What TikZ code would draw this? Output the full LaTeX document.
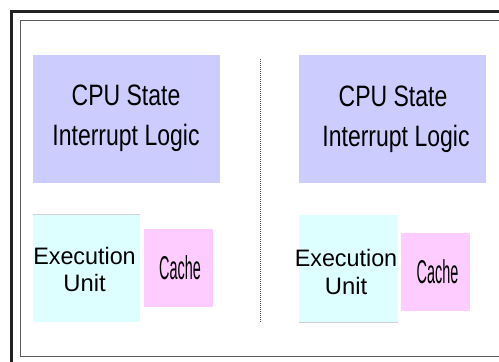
\documentclass[tikz,border=0pt]{standalone}
\usepackage{fontspec}
\setmainfont{Liberation Sans}
\definecolor{cpufill}{RGB}{204,204,255}
\definecolor{exefill}{RGB}{221,255,255}
\definecolor{cachefill}{RGB}{255,204,255}
\definecolor{framedark}{RGB}{34,34,34}
\definecolor{frameinner}{RGB}{90,90,90}
\begin{document}
\begin{tikzpicture}[x=1pt,y=-1pt,
  block/.style={draw=none, inner sep=0pt, outer sep=0pt},
  cpubox/.style={block, fill=cpufill, minimum width=187pt, minimum height=128pt},
  exebox/.style={block, fill=exefill},
  cachebox/.style={block, fill=cachefill, minimum width=69pt, minimum height=78pt},
  txt/.style={anchor=base, inner sep=0pt, outer sep=0pt, text=black},
  cputext/.style={txt, font=\fontsize{29.5}{32}\selectfont},
  exetext/.style={txt, font=\fontsize{23.8}{28}\selectfont},
  cachetext/.style={txt, font=\fontsize{33}{36}\selectfont},
  divider/.style={gray!60!black, line width=0.8pt, dash pattern=on 1pt off 1pt}]
\clip (0,0) rectangle (499,362);
\fill[white] (0,0) rectangle (499,362);

% frames
\draw[framedark, line width=3pt] (11.5,11) rectangle (530,390);
\draw[frameinner, line width=1pt] (20.5,20) rectangle (530,356.5);

% divider between the two cores
\coordinate (divtop) at (260.5,59);
\coordinate (divbot) at (260.5,322);
\draw[divider] (divtop) -- (divbot);

% left core
\node[cpubox] (cpuL) at (126.5,119) {};
\node[cputext] (cpuLa) at (126,105) {\scalebox{0.78}[1]{CPU State}};
\node[cputext] (cpuLb) at (126,145) {\scalebox{0.78}[1]{Interrupt Logic}};
\node[exebox, minimum width=107pt, minimum height=108pt] (exeL) at (86.5,268) {};
\draw[gray!35, line width=0.8pt] (exeL.north west) -- (exeL.north east);
\node[exetext] (exeLa) at (84.5,264) {\scalebox{0.98}[1]{Execution}};
\node[exetext] (exeLb) at (84.5,291.7) {Unit};
\node[cachebox] (cacheL) at (178.5,268) {};
\node[cachetext] (cacheLa) at (180,279.3) {\scalebox{0.437}[1]{Cache}};

% right core
\node[cpubox] (cpuR) at (392.5,119) {};
\node[cputext] (cpuRa) at (393,106) {\scalebox{0.78}[1]{CPU State}};
\node[cputext] (cpuRb) at (396,146) {\scalebox{0.78}[1]{Interrupt Logic}};
\node[exebox, minimum width=99pt, minimum height=107pt] (exeR) at (348.5,268.5) {};
\draw[gray!35, line width=0.8pt] (exeR.south west) -- (exeR.south east);
\node[exetext] (exeRa) at (346,266.5) {\scalebox{0.98}[1]{Execution}};
\node[exetext] (exeRb) at (346,294.5) {Unit};
\node[cachebox] (cacheR) at (435.5,272) {};
\node[cachetext] (cacheRa) at (437.5,283.3) {\scalebox{0.437}[1]{Cache}};
\end{tikzpicture}
\end{document}
